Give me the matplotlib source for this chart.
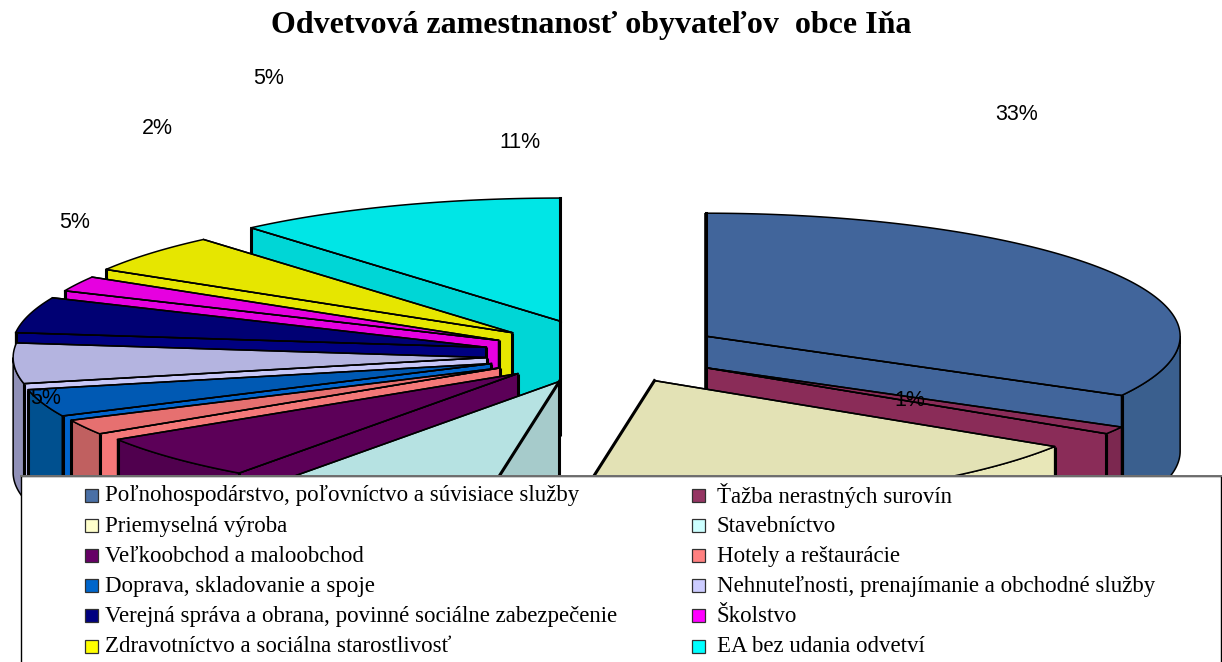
#
# Odvetvova zamestnanost - rozbity 3D kolac (Excel style)
#
import numpy as np
import matplotlib
matplotlib.use("Agg")
import matplotlib.pyplot as plt
from matplotlib.patches import Polygon, Rectangle

categories = [
    "Poľnohospodárstvo, poľovníctvo a súvisiace služby",
    "Ťažba nerastných surovín",
    "Priemyselná výroba",
    "Stavebníctvo",
    "Veľkoobchod a maloobchod",
    "Hotely a reštaurácie",
    "Doprava, skladovanie a spoje",
    "Nehnuteľnosti, prenajímanie a obchodné služby",
    "Verejná správa a obrana, povinné sociálne zabezpečenie",
    "Školstvo",
    "Zdravotníctvo a sociálna starostlivosť",
    "EA bez udania odvetví",
]
values = [33, 1, 18.6, 7.4, 6, 2, 3.6, 5.3, 4.7, 2, 5.1, 11.3]

# popisky co su vidno (ostatne su schovane pod legendou)
shown_labels = ["33%", "1%", "5%", "5%", "2%", "5%", "11%"]
label_xy = [(1017, 114), (910, 401), (46, 399), (75, 223), (157, 128), (269, 78), (520, 142)]

key_colors = ["#4a70a6", "#953563", "#ffffcc", "#ccffff", "#660066", "#ff8080",
              "#0066cc", "#ccccff", "#000080", "#ff00ff", "#ffff00", "#00ffff"]
top_colors = ["#41659b", "#8a2c58", "#e3e2b5", "#b6e2e2", "#5c0058", "#e67070",
              "#0059b3", "#b4b4e0", "#000073", "#e600e0", "#e6e600", "#00e6e6"]
cut_colors = ["#41659b", "#8a2c58", "#e3e2b5", "#a6cbcb", "#5c0058", "#f47878",
              "#0064cc", "#c8c8f8", "#000080", "#e600e0", "#e6e600", "#00d6d6"]
wall_colors = ["#3a5f8e", "#7c2850", "#e8e7b8", "#98baba", "#50004e", "#c06060",
               "#00508f", "#9090b8", "#000066", "#c000c0", "#c8c800", "#00c0c0"]

# geometria kolaca v pixeloch
cx, cy = 602, 354
rx, ry = 474, 123
ex, ey = 121, 33   # o kolko je kazdy dielik odsunuty
depth = 115
# male posuny dielikov, model sedi len priblizne
nudge_x = [0, 0, 3, 4, 4, 4, 4, 6, 1, 4, 3, 0]
nudge_y = [-1, -3, -3.5, -3, -3, -2, -1, 2, 2, 1.5, 0, -2]


def rim(x0, y0, a0, a1, yoff=0):
    t = np.radians(np.linspace(a0, a1, max(int(abs(a1 - a0)) * 2, 2)))
    return np.column_stack([x0 + rx * np.sin(t), y0 - ry * np.cos(t) + yoff])


def edge_width(a):
    return 2.2 if abs(np.sin(np.radians(a))) < 0.3 else 1.1


def draw_slice(ax, a0, a1, i, z):
    mid = np.radians((a0 + a1) / 2)
    x0 = cx + ex * np.sin(mid) + nudge_x[i]
    y0 = cy - ey * np.cos(mid) + nudge_y[i]
    a = np.array([x0, y0])

    # vonkajsia stena, len predna cast
    w0, w1 = max(a0, 90), min(a1, 270)
    if w1 > w0:
        wall = np.vstack([rim(x0, y0, w0, w1), rim(x0, y0, w1, w0, depth)])
        ax.add_patch(Polygon(wall, closed=True, fc=wall_colors[i], ec="black", lw=1.1, zorder=z))
        for ang in (w0, w1):
            if ang in (90, 270):
                continue
            p = rim(x0, y0, ang, ang)[0]
            ax.plot([p[0], p[0]], [p[1], p[1] + depth], color="black", lw=2.2, zorder=z, solid_capstyle="butt")

    # rezy
    for ang, visible in [(a0, a0 > 180), (a1, a1 < 180)]:
        if not visible:
            continue
        p = rim(x0, y0, ang, ang)[0]
        face = [a, p, p + [0, depth], a + [0, depth]]
        ax.add_patch(Polygon(face, closed=True, fc=cut_colors[i], ec="black", lw=1.1, zorder=z))
        ax.plot([a[0], a[0]], [a[1], a[1] + depth], color="black", lw=2.2, zorder=z, solid_capstyle="butt")
        ax.plot([p[0], p[0]], [p[1], p[1] + depth], color="black", lw=2.2, zorder=z, solid_capstyle="butt")

    # horna plocha
    top = np.vstack([a, rim(x0, y0, a0, a1)])
    ax.add_patch(Polygon(top, closed=True, fc=top_colors[i], ec="black", lw=1.1, zorder=z, joinstyle="round"))

    # hrubsie ciary pri strmych hranach
    for ang in (a0, a1):
        p = rim(x0, y0, ang, ang)[0]
        ax.plot([a[0], p[0]], [a[1], p[1]], color="black", lw=edge_width(ang), zorder=z)
        if ang % 360 == 0:
            ax.plot([a[0], a[0]], [p[1], a[1] + depth], color="black", lw=2.6, zorder=z, solid_capstyle="butt")


def main():
    fig = plt.figure(figsize=(12.22, 6.62), dpi=100)
    ax = fig.add_axes([0, 0, 1, 1])
    ax.set_xlim(0, 1222)
    ax.set_ylim(662, 0)
    ax.axis("off")

    edges = np.concatenate([[0], np.cumsum(values)]) / sum(values) * 360

    # odzadu dopredu
    order = [0, 1, 2, 11, 10, 9, 8, 7, 6, 5, 4, 3]
    for z, i in enumerate(order):
        draw_slice(ax, edges[i], edges[i + 1], i, 2 + z)

    ax.text(591, 26, "Odvetvová zamestnanosť obyvateľov  obce Iňa", ha="center", va="center",
            family="Liberation Serif", weight="bold", fontsize=23, zorder=60)

    for txt, (x, y) in zip(shown_labels, label_xy):
        ax.text(x, y, txt, ha="center", va="center", family="Liberation Sans", fontsize=15.5, zorder=60)

    # legenda
    ax.add_patch(Rectangle((21, 475.5), 1200, 190, fc="white", ec="black", lw=1.0, zorder=40))
    ax.plot([21, 1222], [475.5, 475.5], color="#707070", lw=1.4, zorder=41)
    for i, name in enumerate(categories):
        row, col = i // 2, i % 2
        x = 85 if col == 0 else 692
        y = 495 + row * 30.2
        ax.add_patch(Rectangle((x, y - 6.5), 13, 13, fc=key_colors[i], ec="#303030", lw=0.9, zorder=42))
        ax.text(x + 20 if col == 0 else x + 25, y + 1, name, ha="left", va="center",
                family="Liberation Serif", fontsize=16.5, zorder=42)

    fig.savefig("out.png", dpi=100)


if __name__ == "__main__":
    main()
